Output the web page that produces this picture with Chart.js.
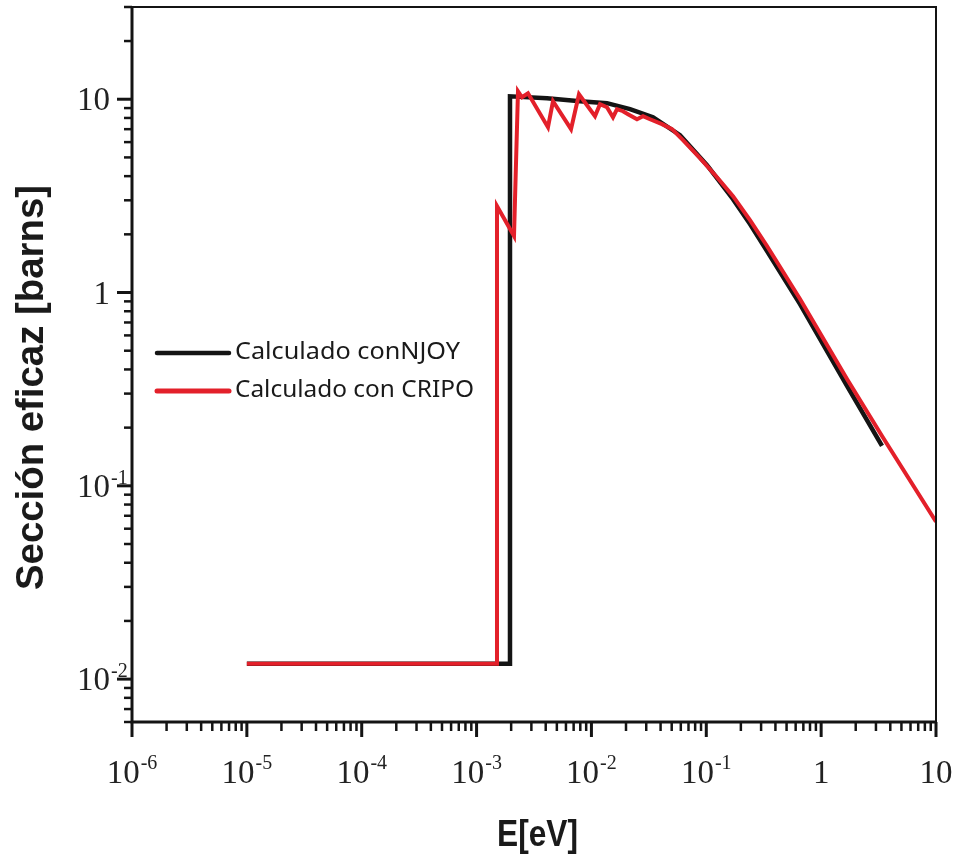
<!DOCTYPE html>
<html>
<head>
<meta charset="utf-8">
<script src="https://cdn.jsdelivr.net/npm/chart.js@4.4.0/dist/chart.umd.min.js"></script>
<style>
  html, body { margin: 0; padding: 0; background: #fff; }
</style>
</head>
<body>
<canvas id="xsChart" width="958" height="863"></canvas>
<script>
// Energy grid [eV] and cross sections [barns]
const njoyE = [1e-5, 1.954e-3, 1.954e-3, 4.103e-3, 7.95e-3, 0.01366, 0.02167, 0.03437, 0.05905, 0.1015, 0.1709, 0.2402, 0.3378, 0.6546, 1.679, 3.388];
const njoyS = [0.012, 0.012, 10.36, 10.12, 9.76, 9.54, 8.88, 8.07, 6.52, 4.56, 3.04, 2.26, 1.64, 0.872, 0.329, 0.161];

const cripoE = [1e-5, 1.506e-3, 1.506e-3, 2.118e-3, 2.294e-3, 2.486e-3, 2.804e-3, 4.185e-3, 4.627e-3, 6.643e-3, 7.793e-3,
  0.01074, 0.01187, 0.01366, 0.01541, 0.0167, 0.01883, 0.02082, 0.02493, 0.02812, 0.03236, 0.04116, 0.05029, 0.0627,
  0.0882, 0.124, 0.1709, 0.2402, 0.3378, 0.6546, 1.679, 3.388, 10];
const cripoS = [0.012, 0.012, 2.8, 1.96, 11.0, 10.24, 10.74, 7.17, 9.76, 7.0, 10.6,
  8.17, 9.42, 9.09, 8.07, 8.88, 8.67, 8.37, 7.88, 8.17, 7.88, 7.43, 7.0, 6.14,
  4.96, 3.95, 3.15, 2.37, 1.74, 0.926, 0.357, 0.181, 0.0652];

const seriesNames = ["Calculado conNJOY", "Calculado con CRIPO"];

const xMajor = [1e-6, 1e-5, 1e-4, 1e-3, 1e-2, 1e-1, 1, 10];
const xTickLabels = [["10", "-6"], ["10", "-5"], ["10", "-4"], ["10", "-3"], ["10", "-2"], ["10", "-1"], ["1", ""], ["10", ""]];
const yMajor = [0.01, 0.1, 1, 10];
const yTickLabels = [["10", "-2"], ["10", "-1"], ["1", ""], ["10", ""]];

const xTitle = "E[eV]";
const yTitle = "Sección eficaz [barns]";

const BLACK = "#141414";
const RED = "#e3202a";

function minorTicks(min, max) {
  const out = [];
  for (let d = Math.floor(Math.log10(min)); d <= Math.ceil(Math.log10(max)); d++) {
    for (let k = 2; k <= 9; k++) {
      const v = k * Math.pow(10, d);
      if (v >= min * 0.999 && v <= max * 1.001) out.push(v);
    }
  }
  return out;
}

// draw text stretched to a given width
function fitText(ctx, text, x, y, width, font) {
  ctx.font = font;
  const w = ctx.measureText(text).width;
  ctx.save();
  ctx.translate(x, y);
  ctx.scale(width / w, 1);
  ctx.textAlign = "left";
  ctx.textBaseline = "alphabetic";
  ctx.fillText(text, 0, 0);
  ctx.restore();
}

const axesPlugin = {
  id: "axesPlugin",
  afterDraw(chart) {
    const ctx = chart.ctx;
    const a = chart.chartArea;
    const xs = chart.scales.x;
    const ys = chart.scales.y;
    ctx.save();
    ctx.strokeStyle = BLACK;
    ctx.fillStyle = BLACK;

    // frame
    ctx.lineWidth = 2;
    ctx.beginPath();
    ctx.moveTo(a.left, a.top);
    ctx.lineTo(a.right, a.top);
    ctx.lineTo(a.right, a.bottom);
    ctx.stroke();
    ctx.lineWidth = 3;
    ctx.beginPath();
    ctx.moveTo(a.left, a.top - 1);
    ctx.lineTo(a.left, a.bottom);
    ctx.lineTo(a.right + 1, a.bottom);
    ctx.stroke();

    // x ticks
    ctx.lineWidth = 3;
    xMajor.forEach(v => {
      const p = xs.getPixelForValue(v);
      ctx.beginPath(); ctx.moveTo(p, a.bottom); ctx.lineTo(p, a.bottom + 15); ctx.stroke();
    });
    ctx.lineWidth = 2.5;
    minorTicks(xs.min, xs.max).forEach(v => {
      const p = xs.getPixelForValue(v);
      ctx.beginPath(); ctx.moveTo(p, a.bottom); ctx.lineTo(p, a.bottom + 9); ctx.stroke();
    });
    // y ticks
    ctx.lineWidth = 3;
    yMajor.forEach(v => {
      const p = ys.getPixelForValue(v);
      ctx.beginPath(); ctx.moveTo(a.left, p); ctx.lineTo(a.left - 15, p); ctx.stroke();
    });
    ctx.lineWidth = 2.5;
    minorTicks(ys.min, ys.max).forEach(v => {
      const p = ys.getPixelForValue(v);
      ctx.beginPath(); ctx.moveTo(a.left, p); ctx.lineTo(a.left - 8, p); ctx.stroke();
    });

    // tick labels
    const baseFont = "33px 'Liberation Serif'";
    const expFont = "20px 'Liberation Serif'";
    ctx.fillStyle = "#222";
    ctx.textBaseline = "alphabetic";
    ctx.textAlign = "left";
    xMajor.forEach((v, i) => {
      const [b, e] = xTickLabels[i];
      ctx.font = baseFont;
      const wb = ctx.measureText(b).width;
      ctx.font = expFont;
      const we = e ? ctx.measureText(e).width + 1 : 0;
      const start = xs.getPixelForValue(v) - (wb + we) / 2;
      ctx.font = baseFont;
      ctx.fillText(b, start, a.bottom + 61);
      if (e) { ctx.font = expFont; ctx.fillText(e, start + wb + 1, a.bottom + 47); }
    });
    yMajor.forEach((v, i) => {
      const [b, e] = yTickLabels[i];
      const p = ys.getPixelForValue(v);
      const right = a.left - 22;
      ctx.font = baseFont;
      const wb = ctx.measureText(b).width;
      ctx.fillText(b, right - wb, p + 11);
      if (e) { ctx.font = expFont; ctx.fillText(e, right + 1, p - 2); }
    });

    // axis titles
    ctx.fillStyle = "#1a1a1a";
    fitText(ctx, xTitle, 497, 846, 81, "bold 36px 'Liberation Sans'");
    ctx.save();
    ctx.translate(43, 590);
    ctx.rotate(-Math.PI / 2);
    fitText(ctx, yTitle, 0, 0, 405, "bold 38px 'Liberation Sans'");
    ctx.restore();

    // legend
    const items = [
      { color: BLACK, y: 353, width: 4.5, textY: 359, textW: 225 },
      { color: RED, y: 391, width: 5, textY: 397, textW: 239 }
    ];
    items.forEach((it, i) => {
      ctx.strokeStyle = it.color;
      ctx.lineWidth = it.width;
      ctx.lineCap = "round";
      ctx.beginPath(); ctx.moveTo(157, it.y); ctx.lineTo(229, it.y); ctx.stroke();
      ctx.fillStyle = "#1a1a1a";
      fitText(ctx, seriesNames[i], 235, it.textY, it.textW, "23px 'Noto Sans'");
    });
    ctx.restore();
  }
};

new Chart(document.getElementById("xsChart"), {
  type: "line",
  data: {
    datasets: [
      {
        label: seriesNames[0],
        data: njoyE.map((e, i) => ({ x: e, y: njoyS[i] })),
        borderColor: BLACK,
        borderWidth: 4.5,
        pointRadius: 0,
        tension: 0,
        order: 2
      },
      {
        label: seriesNames[1],
        data: cripoE.map((e, i) => ({ x: e, y: cripoS[i] })),
        borderColor: RED,
        borderWidth: 4,
        pointRadius: 0,
        tension: 0,
        order: 1
      }
    ]
  },
  options: {
    responsive: false,
    animation: false,
    layout: { padding: { left: 132, top: 7, right: 22, bottom: 141 } },
    scales: {
      x: { type: "logarithmic", min: 1e-6, max: 10, display: false },
      y: { type: "logarithmic", min: 0.006, max: 30, display: false }
    },
    plugins: {
      legend: { display: false },
      tooltip: { enabled: false }
    }
  },
  plugins: [axesPlugin]
});
</script>
</body>
</html>
